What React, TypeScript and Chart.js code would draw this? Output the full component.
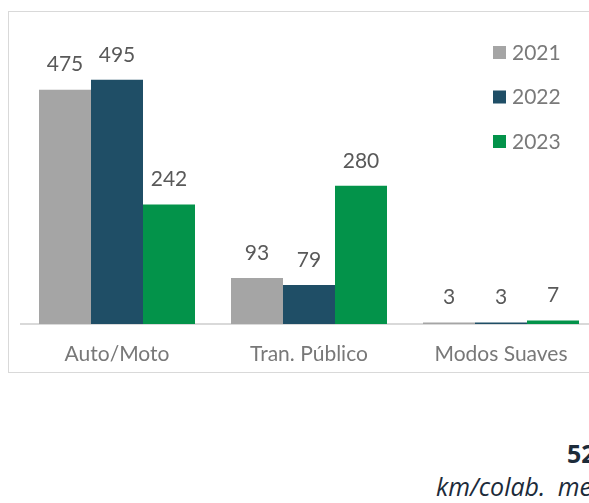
import React, { useEffect, useRef } from "react";
import { Chart, registerables } from "chart.js";

Chart.register(...registerables);

const categories = ["Auto/Moto", "Tran. Público", "Modos Suaves"];
const years = ["2021", "2022", "2023"];
const values2021 = [475, 93, 3];
const values2022 = [495, 79, 3];
const values2023 = [242, 280, 7];
const seriesColors = ["#a5a5a5", "#1f4e66", "#03934a"];
const summaryValue = "52";
const summaryUnit = "km/colab. mes";

const FONT = "Lato, 'Open Sans', sans-serif";
const FONT2 = "'Open Sans', Lato, sans-serif";

const labelPlugin = {
  id: "valueLabels",
  afterDatasetsDraw(chart: any) {
    const ctx = chart.ctx;
    ctx.save();
    ctx.font = `21px ${FONT}`;
    ctx.fillStyle = "#595959";
    ctx.textAlign = "center";
    ctx.textBaseline = "middle";
    chart.data.datasets.forEach((ds: any, i: number) => {
      const meta = chart.getDatasetMeta(i);
      meta.data.forEach((el: any, j: number) => {
        ctx.fillText(String(ds.data[j]), el.x, el.y - 25);
      });
    });
    ctx.restore();
  },
};

const legendPlugin = {
  id: "sideLegend",
  afterDraw(chart: any) {
    const ctx = chart.ctx;
    const x0 = chart.chartArea.right - 104;
    const y0 = 34;
    ctx.save();
    ctx.font = `21px ${FONT}`;
    ctx.textBaseline = "middle";
    ctx.textAlign = "left";
    chart.data.datasets.forEach((ds: any, i: number) => {
      const y = y0 + i * 44.5;
      ctx.fillStyle = ds.backgroundColor;
      ctx.fillRect(x0, y, 13, 13);
      ctx.fillStyle = "#7a7a7a";
      ctx.fillText(ds.label, x0 + 19, y + 7);
    });
    ctx.restore();
  },
};

function BarChart() {
  const ref = useRef<HTMLCanvasElement | null>(null);
  useEffect(() => {
    if (!ref.current) return;
    const chart = new Chart(ref.current, {
      type: "bar",
      data: {
        labels: categories,
        datasets: [values2021, values2022, values2023].map((d, i) => ({
          label: years[i],
          data: d,
          backgroundColor: seriesColors[i],
          borderWidth: 0,
          categoryPercentage: 0.8125,
          barPercentage: 1,
        })),
      },
      options: {
        responsive: false,
        animation: false,
        layout: { padding: { top: 16, left: 12, right: 22, bottom: 0 } },
        plugins: { legend: { display: false }, tooltip: { enabled: false } },
        scales: {
          x: {
            grid: { display: false },
            border: { display: true, color: "#d9d9d9", width: 2 },
            ticks: { color: "#787878", font: { family: FONT, size: 21 }, padding: 10 },
            afterFit: (s: any) => {
              s.height = 48;
            },
          },
          y: { display: false, min: 0, max: 600 },
        },
      },
      plugins: [labelPlugin, legendPlugin],
    });
    return () => chart.destroy();
  }, []);
  return <canvas ref={ref} width={610} height={360} style={{ display: "block", width: 610, height: 360 }} />;
}

export default function App() {
  useEffect(() => {
    document.documentElement.style.overflow = "hidden";
  }, []);
  return (
    <div style={{ position: "fixed", left: 8, top: 8, width: 581, height: 495, overflow: "hidden", background: "#fff" }}>
      <div style={{ position: "absolute", left: 0, top: 3, width: 610, border: "1px solid #d9d9d9", background: "#fff" }}>
        <BarChart />
      </div>
      <div
        style={{
          position: "absolute",
          left: 559,
          top: 428,
          font: `bold 25px ${FONT2}`,
          color: "#1c2b3a",
          whiteSpace: "nowrap",
        }}
      >
        {summaryValue}
      </div>
      <div
        style={{
          position: "absolute",
          left: 428,
          top: 461,
          font: `italic 25px ${FONT2}`,
          color: "#1c2b3a",
          whiteSpace: "nowrap",
          wordSpacing: 6,
        }}
      >
        {summaryUnit}
      </div>
    </div>
  );
}
